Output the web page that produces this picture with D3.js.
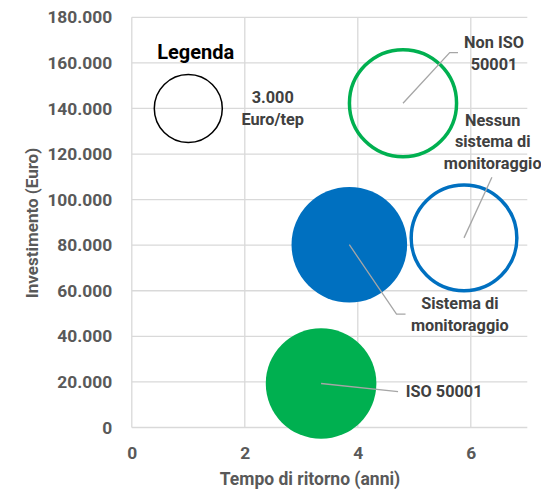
<!DOCTYPE html>
<html>
<head>
<meta charset="utf-8">
<script src="https://cdn.jsdelivr.net/npm/d3@7"></script>
<style>
  html, body { margin: 0; padding: 0; background: #fff; }
  svg { display: block; font-family: "Roboto", "Liberation Sans", sans-serif; }
</style>
</head>
<body>
<svg id="chart" width="541" height="489"></svg>
<script>
// Series: payback time (years), investment (Euro), bubble size (Euro/tep)
const seriesNames = ["Legenda", "Non ISO 50001", "Nessun sistema di monitoraggio", "Sistema di monitoraggio", "ISO 50001"];
const payback = [1.0, 4.8, 5.88, 3.85, 3.35];
const investment = [140000, 142300, 83200, 80200, 19300];
const bubbleSize = [3000, 7600, 7400, 8300, 7600];
const xTicks = [0, 2, 4, 6];
const yTicks = [0, 20000, 40000, 60000, 80000, 100000, 120000, 140000, 160000, 180000];

// Styling per series
const fills = ["none", "none", "none", "#0070C0", "#00B050"];
const strokes = ["#000000", "#00B050", "#0070C0", "none", "none"];
const strokeWidths = [1.5, 3.5, 3.5, 0, 0];

// Label layout: lines, anchor offset from bubble centre, leader elbow points
const labelLayout = [
  null,
  { lines: ["Non ISO", "50001"], dx: 91, dy: -55, anchor: "middle", leader: [[46.7, -50.6], [55, -50.6]] },
  { lines: ["Nessun", "sistema di", "monitoraggio"], dx: 28.7, dy: -112, anchor: "middle", leader: [[27.9, -60.7]] },
  { lines: ["Sistema di", "monitoraggio"], dx: 110.5, dy: 64.6, anchor: "middle", leader: [[47.2, 69.3], [56.2, 69.3]] },
  { lines: ["ISO 50001"], dx: 84.7, dy: 13.7, anchor: "start", leader: [[77, 8.1]] }
];

const fmt = d3.formatLocale({ decimal: ",", thousands: ".", grouping: [3], currency: ["€", ""] }).format(",.0f");

const svg = d3.select("#chart");
const margin = { left: 131.8, right: 541 - 527.3, top: 17.3, bottom: 489 - 427.5 };
const W = 541, H = 489;

const x = d3.scaleLinear().domain([0, 7]).range([margin.left, W - margin.right]);
const y = d3.scaleLinear().domain([0, 180000]).range([H - margin.bottom, margin.top]);
const r = d3.scaleSqrt().domain([0, 8300]).range([0, 57.8]);

const grid = svg.append("g").attr("stroke", "#d9d9d9").attr("stroke-width", 1.3);
yTicks.forEach(t => {
  grid.append("line").attr("x1", x(0)).attr("x2", x(7)).attr("y1", y(t)).attr("y2", y(t));
});
xTicks.forEach(t => {
  grid.append("line").attr("x1", x(t)).attr("x2", x(t)).attr("y1", y(0)).attr("y2", y(180000));
});

// Axes (labels only, Excel-like)
const yAxis = d3.axisLeft(y).tickValues(yTicks).tickFormat(d => fmt(d)).tickSize(0).tickPadding(19.5);
const gy = svg.append("g").attr("transform", `translate(${x(0)},0)`).call(yAxis);
gy.select(".domain").remove();
gy.selectAll("text").attr("font-size", 17.4).attr("font-weight", "bold").attr("fill", "#595959")
  .attr("font-family", "Roboto, 'Liberation Sans', sans-serif");

const xAxis = d3.axisBottom(x).tickValues(xTicks).tickFormat(d3.format("d")).tickSize(0).tickPadding(19);
const gx = svg.append("g").attr("transform", `translate(0,${y(0)})`).call(xAxis);
gx.select(".domain").remove();
gx.selectAll("text").attr("font-size", 17.4).attr("font-weight", "bold").attr("fill", "#595959")
  .attr("font-family", "Roboto, 'Liberation Sans', sans-serif");

svg.append("text").attr("x", 310).attr("y", 485).attr("text-anchor", "middle")
  .attr("font-size", 17.5).attr("font-weight", "bold").attr("fill", "#595959")
  .text("Tempo di ritorno (anni)");
svg.append("text").attr("transform", "translate(38,223) rotate(-90)").attr("text-anchor", "middle")
  .attr("font-size", 17).attr("font-weight", "bold").attr("fill", "#595959")
  .text("Investimento (Euro)");

// Bubbles
const data = seriesNames.map((name, i) => ({ name, px: payback[i], inv: investment[i], size: bubbleSize[i], i }));
svg.append("g").selectAll("circle").data(data).join("circle")
  .attr("cx", d => x(d.px)).attr("cy", d => y(d.inv))
  .attr("r", d => r(d.size) - (strokeWidths[d.i] ? strokeWidths[d.i] / 2 : 0))
  .attr("fill", d => fills[d.i]).attr("stroke", d => strokes[d.i]).attr("stroke-width", d => strokeWidths[d.i]);

// Data labels with leader lines
const lab = svg.append("g");
data.forEach(d => {
  const L = labelLayout[d.i];
  if (!L) return;
  const cx = x(d.px), cy = y(d.inv);
  const pts = [[cx, cy]].concat(L.leader.map(p => [cx + p[0], cy + p[1]]));
  lab.append("path").attr("d", d3.line()(pts)).attr("fill", "none").attr("stroke", "#a6a6a6").attr("stroke-width", 1.3);
  const t = lab.append("text").attr("text-anchor", L.anchor).attr("font-size", 16.3).attr("font-weight", "bold").attr("fill", "#404040");
  L.lines.forEach((line, k) => {
    t.append("tspan").attr("x", cx + L.dx).attr("y", cy + L.dy + k * 21.5).text(line);
  });
});

// Legend bubble caption
svg.append("text").attr("x", 195.7).attr("y", 59.3).attr("text-anchor", "middle")
  .attr("font-size", 20).attr("font-weight", "bold").attr("fill", "#000").text("Legenda");
const cap = svg.append("text").attr("text-anchor", "middle").attr("font-size", 16.3).attr("font-weight", "bold").attr("fill", "#404040");
[fmt(bubbleSize[0]), "Euro/tep"].forEach((line, k) => {
  cap.append("tspan").attr("x", 272.7).attr("y", 103.3 + k * 21.7).text(line);
});
</script>
</body>
</html>
